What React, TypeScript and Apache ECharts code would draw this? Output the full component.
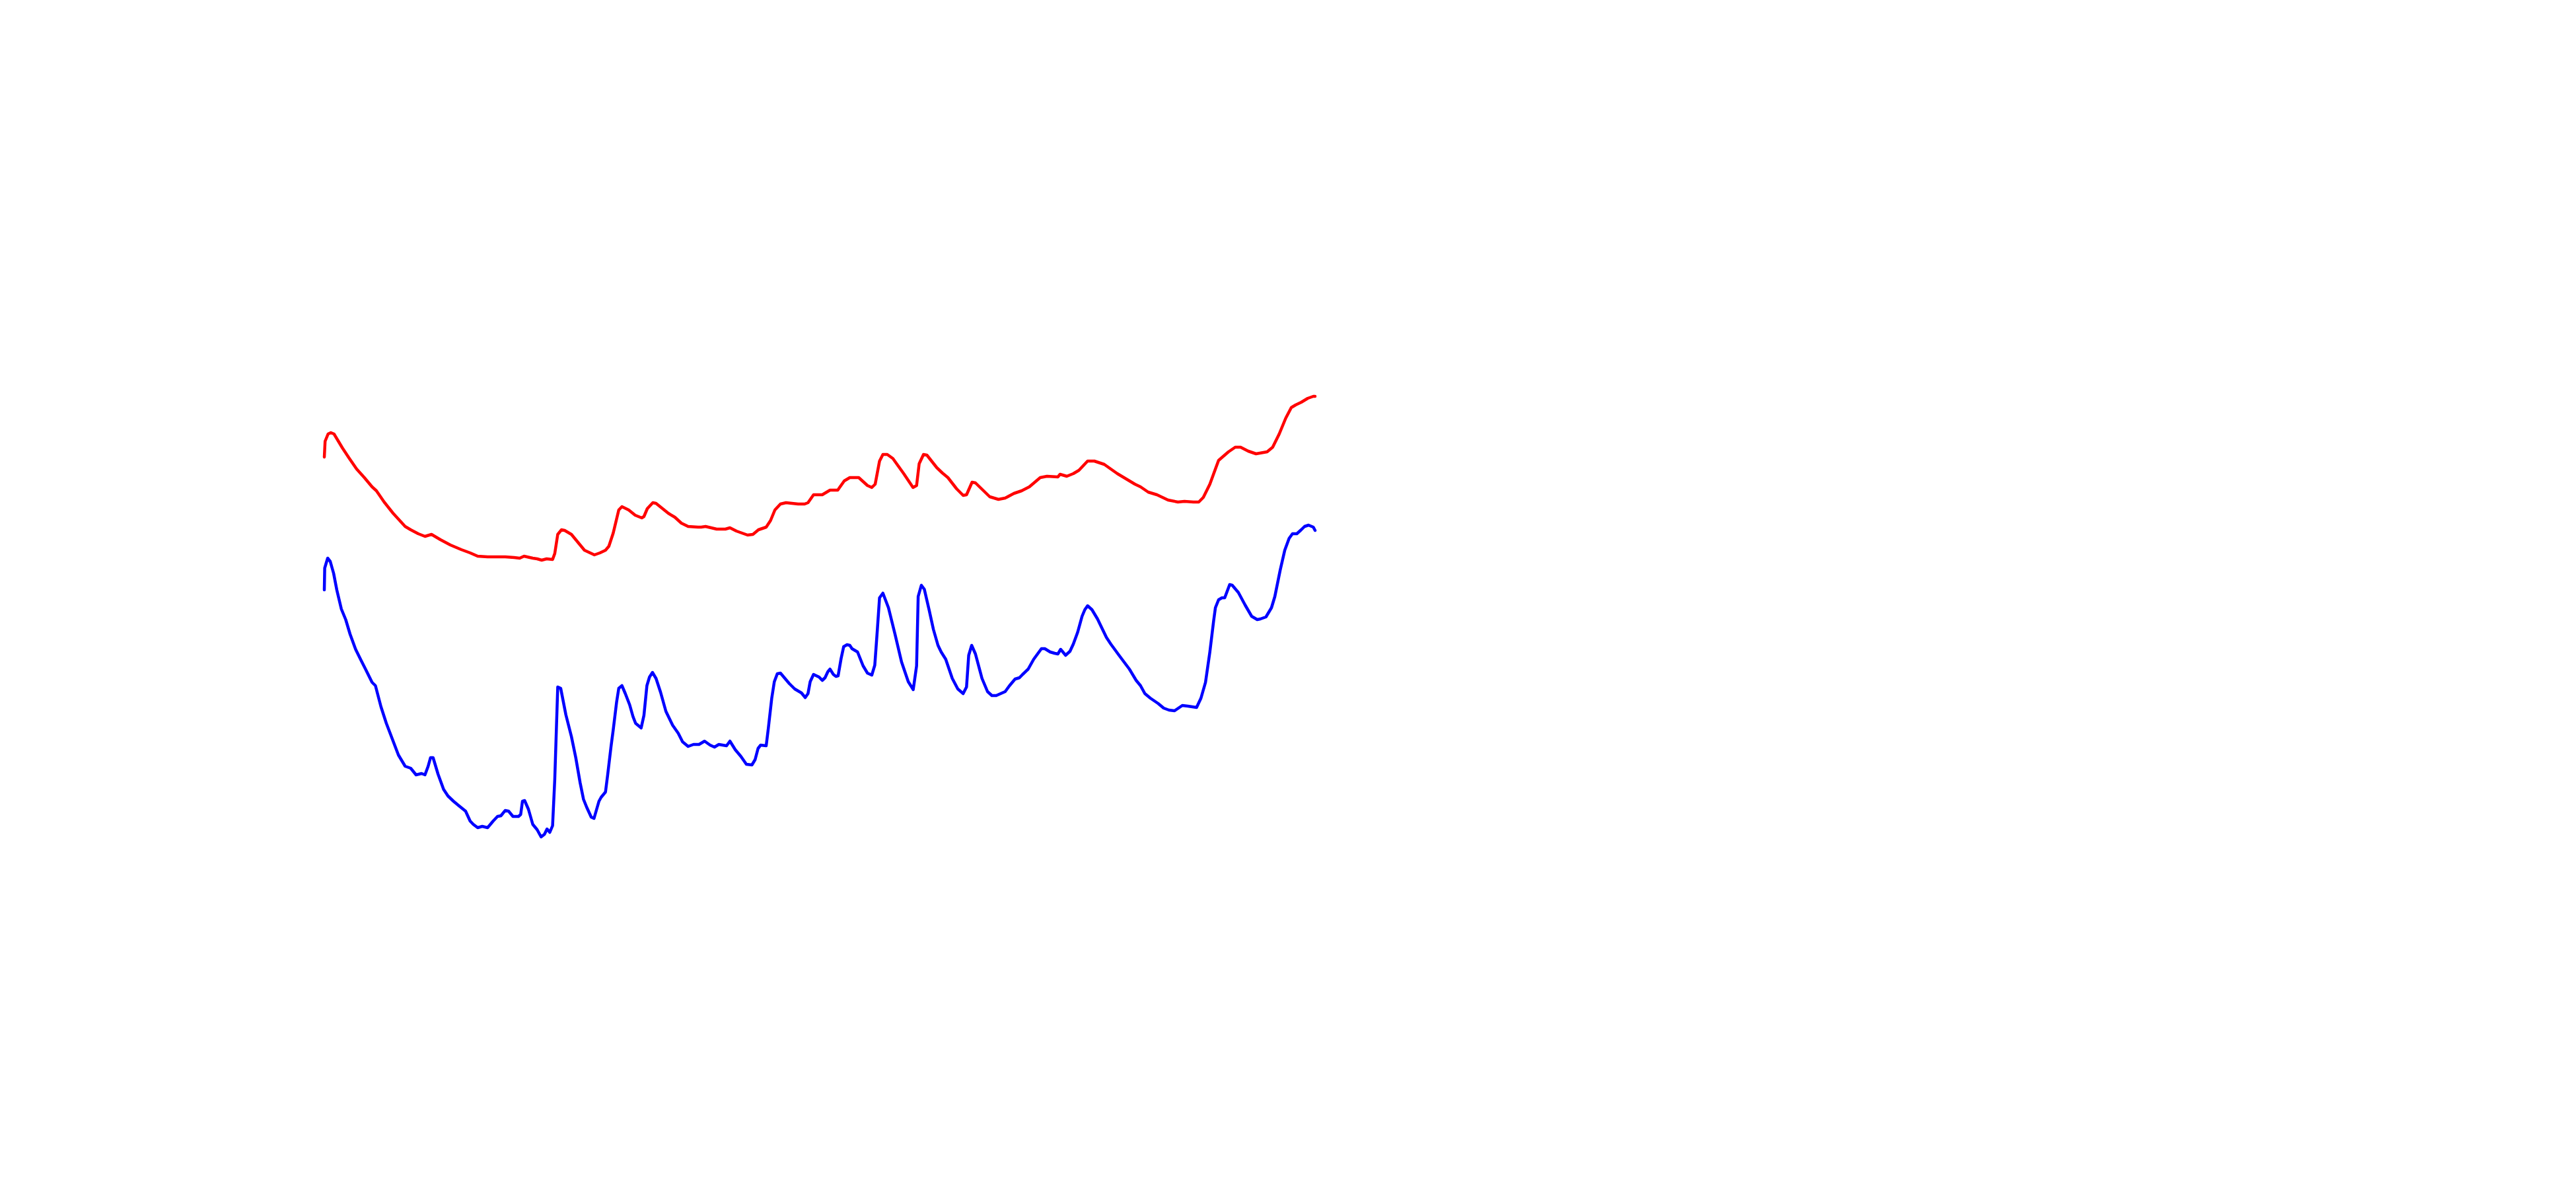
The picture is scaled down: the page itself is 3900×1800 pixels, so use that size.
import React, { useEffect, useRef } from "react";
import * as echarts from "echarts";

// x: time index (0–500), y: measured level
const redX = [0, 0.4, 1.9, 3.3, 4.9, 6.9, 9.1, 12.4, 16.3, 20.2, 24.1, 26.3, 30.2, 34.7, 40.8, 43.6, 47.4, 50.8, 54.1, 58.6, 63.6, 69.1, 73.6, 77.4, 82.4, 86.9, 91.3, 95.8, 98.6, 100.8, 105.2, 107.4, 109.7, 112.2, 115.2, 116.3, 117.8, 119.7, 121.3, 124.7, 126.9, 131.3, 136.3, 139.1, 141.9, 143.6, 145.8, 148.6, 150.2, 153.6, 156.9, 160.2, 161.3, 163, 165.8, 167.4, 173.6, 176.9, 180.2, 183.6, 188.6, 190.2, 192.4, 198, 202.4, 204.7, 208, 210.8, 213.6, 216.3, 219.1, 223, 225.2, 227.4, 230.2, 233, 239.1, 242.4, 244.1, 246.9, 249.1, 251.3, 255.2, 259.1, 262.4, 265.2, 269.7, 274.1, 276.3, 278, 280.2, 281.9, 284.1, 286.9, 292.4, 297.1, 298.9, 300.2, 302.4, 304.1, 309.1, 311.9, 314.7, 319.1, 322.4, 324.1, 326.9, 328.6, 335.8, 340.2, 343.6, 348, 351.9, 355.8, 361.3, 364.7, 370.2, 371.3, 374.7, 378, 380.8, 385.2, 388.6, 393.6, 400.2, 409.1, 411.9, 415.8, 420.2, 425.8, 430.8, 434.1, 438.6, 441.3, 443.6, 446.9, 449.7, 451.3, 453.6, 456.3, 459.7, 462.4, 466.3, 470.2, 475.8, 478.6, 481.9, 485.2, 488, 490.2, 493, 496.3, 499.1, 500];
const redY = [70.8, 73.2, 74.3, 74.5, 74.3, 73.3, 72.2, 70.7, 69, 67.7, 66.3, 65.7, 64, 62.3, 60.3, 59.8, 59.2, 58.8, 59.1, 58.3, 57.5, 56.8, 56.3, 55.8, 55.7, 55.7, 55.7, 55.6, 55.5, 55.8, 55.5, 55.4, 55.2, 55.4, 55.3, 56.2, 59.1, 59.8, 59.7, 59.1, 58.3, 56.7, 56, 56.3, 56.7, 57.3, 59.3, 62.8, 63.3, 62.8, 62, 61.6, 61.8, 63, 63.9, 63.8, 62.3, 61.7, 60.8, 60.3, 60.2, 60.2, 60.3, 59.9, 59.9, 60.1, 59.6, 59.3, 59, 59.1, 59.8, 60.2, 61.2, 62.8, 63.7, 63.9, 63.7, 63.7, 63.9, 65.1, 65.1, 65.1, 65.8, 65.8, 67.2, 67.7, 67.7, 66.5, 66.2, 66.7, 70.2, 71.2, 71.2, 70.6, 68.3, 66.2, 66.5, 69.8, 71.2, 71.1, 69.2, 68.4, 67.7, 66, 65, 65.1, 67, 66.9, 64.8, 64.4, 64.6, 65.3, 65.7, 66.3, 67.7, 67.9, 67.8, 68.2, 67.9, 68.3, 68.8, 70.2, 70.2, 69.7, 68.3, 66.7, 66.3, 65.5, 65.1, 64.3, 64, 64.1, 64, 64, 64.7, 66.7, 69, 70.3, 70.9, 71.6, 72.3, 72.3, 71.7, 71.3, 71.6, 72.3, 74.3, 76.7, 78.3, 78.7, 79.1, 79.7, 80, 80];

const blueX = [0, 0.2, 1.7, 3, 4.7, 6.3, 8.6, 10.8, 13, 15.8, 18.6, 20.8, 24.1, 25.8, 28.6, 31.3, 34.1, 37.4, 40.8, 43.6, 46.3, 49.1, 50.8, 52.4, 53.6, 54.9, 57.4, 60.2, 62.4, 65.2, 68, 71.3, 73.6, 75.2, 77.4, 79.7, 82.4, 85.2, 87.4, 89.1, 91.3, 93, 95.2, 98, 99.1, 100, 101.1, 103, 105.2, 107.4, 109.4, 111.1, 112.4, 113.8, 115.2, 116.3, 117.8, 119.3, 121.9, 124.7, 126.9, 129.1, 130.8, 132.4, 134.7, 136.1, 138.6, 139.7, 141.9, 143, 144.7, 145.8, 147.5, 148.6, 150.2, 151.9, 154.1, 155.8, 157.1, 159.9, 161.3, 162.8, 164.1, 165.6, 167.4, 169.7, 172.4, 175.8, 178.6, 180.8, 183.6, 186.3, 189.1, 191.9, 194.7, 196.9, 199.1, 203, 204.7, 207.4, 210.2, 213, 215.8, 217.4, 218.9, 220.2, 223, 224.1, 225.8, 227.1, 228.6, 230.2, 234.7, 237.4, 240.8, 242.7, 244.1, 245.2, 246.9, 249.7, 251.3, 252.7, 254.1, 255.2, 256.9, 258.2, 259.3, 260.8, 262.1, 263.8, 265.2, 266.3, 269.1, 271.9, 274.1, 276.3, 277.8, 279.1, 280.2, 281.9, 284.7, 288, 291.3, 294.7, 297.2, 298.9, 299.7, 301.3, 302.8, 305.2, 307.4, 309.7, 311.3, 313.6, 316.9, 319.7, 322.4, 324.1, 325.2, 326.7, 328.6, 331.9, 334.7, 336.9, 339.1, 343.6, 345.8, 348.6, 350.8, 352.4, 355.2, 358, 361.9, 363.6, 366.3, 368.6, 370.2, 371.6, 374.1, 376.3, 378, 380.2, 382.4, 383.8, 385.2, 387.4, 390.2, 394.7, 396.9, 401.3, 406.3, 409.7, 411.9, 414.1, 416.9, 420.8, 423.6, 426.3, 429.1, 433, 435.8, 440.2, 442.4, 444.7, 446.9, 448.8, 449.7, 451.3, 453, 454.4, 456.9, 458.2, 461.3, 464.7, 468, 470.8, 472.4, 475.2, 478, 479.7, 482.4, 484.7, 486.9, 488.6, 490.8, 493, 494.7, 496.7, 499.1, 500];
const blueY = [50.7, 54, 55.5, 55, 53.2, 50.7, 47.8, 46.2, 44, 41.7, 40, 38.7, 36.7, 36.2, 33, 30.5, 28.3, 25.7, 24, 23.7, 22.7, 22.9, 22.7, 24, 25.3, 25.3, 22.8, 20.5, 19.5, 18.7, 18, 17.2, 15.7, 15.2, 14.7, 14.9, 14.7, 15.7, 16.4, 16.5, 17.3, 17.2, 16.4, 16.4, 16.7, 18.7, 18.8, 17.5, 15.2, 14.4, 13.3, 13.7, 14.5, 14, 15, 22, 36, 35.8, 31.8, 28.5, 25.3, 21.5, 19, 17.8, 16.3, 16.1, 18.7, 19.3, 20.1, 22.7, 27, 29.5, 33.7, 35.8, 36.2, 35, 33.3, 31.5, 30.5, 29.8, 31.7, 36.2, 37.5, 38.2, 37.3, 35.2, 32.3, 30.2, 29, 27.7, 27, 27.3, 27.3, 27.8, 27.2, 26.9, 27.3, 27.1, 27.8, 26.5, 25.5, 24.3, 24.2, 25, 26.7, 27.2, 27.1, 29.8, 34.3, 36.8, 38, 38.1, 36.5, 35.7, 35.1, 34.4, 35, 36.8, 37.9, 37.5, 37, 37.4, 38.3, 38.7, 37.9, 37.6, 37.7, 40.3, 42.1, 42.4, 42.3, 41.8, 41.3, 39.2, 38.1, 37.8, 39.3, 44.7, 49.5, 50.2, 48, 44, 39.8, 36.8, 35.6, 39.2, 49.7, 51.4, 50.8, 47.7, 44.7, 42.3, 41.3, 40.2, 37.3, 35.7, 35, 36, 40.8, 42.3, 41, 37.3, 35.3, 34.7, 34.7, 35.3, 36.2, 37.2, 37.4, 37.9, 38.7, 40.2, 41.8, 41.8, 41.3, 41.1, 41, 41.7, 40.8, 41.4, 42.5, 44.3, 46.7, 47.7, 48.3, 47.7, 46.3, 43.5, 42.5, 40.7, 38.7, 37, 36.2, 35, 34.3, 33.5, 32.8, 32.5, 32.4, 33.2, 33.1, 32.9, 34.3, 36.7, 41.3, 46, 48, 49.2, 49.5, 49.5, 51.5, 51.4, 50.3, 48.4, 46.7, 46.2, 46.3, 46.6, 48, 49.7, 53.7, 56.7, 58.5, 59.2, 59.2, 59.8, 60.3, 60.5, 60.2, 59.7];

const xMin = 0;
const xMax = 500;
const yMin = 0;
const yMax = 90;

export default function App() {
  const ref = useRef<HTMLDivElement>(null);
  useEffect(() => {
    if (!ref.current) return;
    const chart = echarts.init(ref.current, null, { renderer: "svg" });
    const red = redX.map((x, i) => [x, redY[i]]);
    const blue = blueX.map((x, i) => [x, blueY[i]]);
    chart.setOption({
      animation: false,
      backgroundColor: "#ffffff",
      grid: { left: 491, right: 1909, top: 500, bottom: 400 },
      xAxis: {
        type: "value",
        min: xMin,
        max: xMax,
        show: false,
      },
      yAxis: {
        type: "value",
        min: yMin,
        max: yMax,
        show: false,
      },
      series: [
        {
          type: "line",
          data: red,
          symbol: "none",
          lineStyle: { color: "#ff0000", width: 4.5, join: "round", cap: "round" },
          itemStyle: { color: "#ff0000" },
        },
        {
          type: "line",
          data: blue,
          symbol: "none",
          lineStyle: { color: "#0000ff", width: 4.5, join: "round", cap: "round" },
          itemStyle: { color: "#0000ff" },
        },
      ],
    });
    return () => chart.dispose();
  }, []);
  return (
    <div
      ref={ref}
      style={{ position: "fixed", left: 0, top: 0, width: 3900, height: 1800, background: "#fff" }}
    />
  );
}
